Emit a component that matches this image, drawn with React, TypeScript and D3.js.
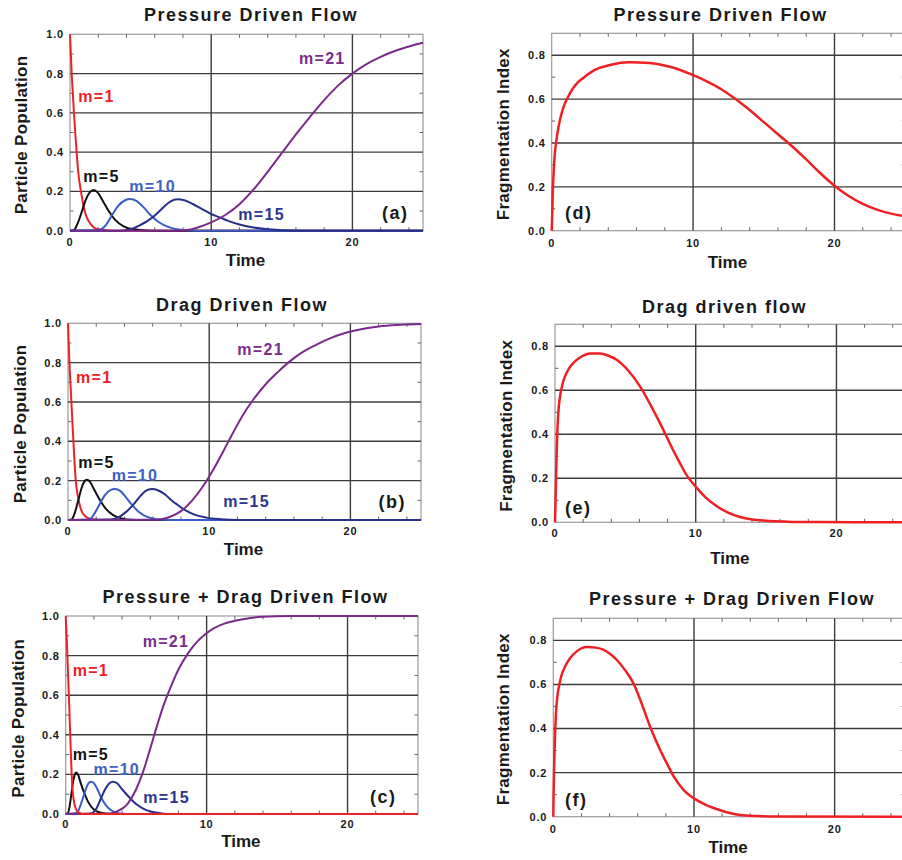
import React from 'react';
import * as d3 from 'd3';

type Pt = [number, number];

// ---------- tick labels / categories ----------
const timeTicks = [0, 10, 20];
const popTicks = [0, 0.2, 0.4, 0.6, 0.8, 1.0];
const fragTicks = [0, 0.2, 0.4, 0.6, 0.8];
const seriesNames = ['m=1', 'm=5', 'm=10', 'm=15', 'm=21'];
const popTitles = ['Pressure Driven Flow', 'Drag Driven Flow', 'Pressure + Drag Driven Flow'];
const fragTitles = ['Pressure Driven Flow', 'Drag driven flow', 'Pressure + Drag Driven Flow'];
const panelTags = ['(a)', '(b)', '(c)', '(d)', '(e)', '(f)'];

// ---------- (a) Pressure driven: particle population ----------
const aM1: Pt[] = [[0,1],[0.06,0.9],[0.12,0.8],[0.2,0.7],[0.28,0.6],[0.37,0.5],[0.47,0.4],[0.58,0.3],[0.8,0.19],[1.0,0.11],[1.2,0.065],[1.45,0.035],[1.8,0.012],[2.4,0.003],[3,0],[25,0]];
const aM5: Pt[] = [[0,0],[0.26,0.002],[0.5,0.03],[0.85,0.1],[1.1,0.155],[1.4,0.195],[1.68,0.207],[1.95,0.195],[2.3,0.155],[2.74,0.1],[3.2,0.055],[3.8,0.022],[4.5,0.007],[5.8,0],[25,0]];
const aM10: Pt[] = [[0,0],[2.0,0.003],[2.5,0.025],[2.98,0.08],[3.4,0.125],[3.9,0.155],[4.28,0.161],[4.7,0.152],[5.2,0.12],[5.7,0.08],[6.3,0.043],[7.0,0.018],[7.8,0.005],[8.8,0],[25,0]];
const aM15: Pt[] = [[0,0],[3.5,0],[4.3,0.007],[5.0,0.03],[5.5,0.05],[6.05,0.08],[6.6,0.118],[7.1,0.148],[7.6,0.16],[8.1,0.155],[8.7,0.136],[9.3,0.112],[10,0.085],[10.6,0.068],[11.2,0.05],[12,0.032],[13,0.016],[14,0.007],[15,0.002],[16.5,0],[25,0]];
const aM21: Pt[] = [[0,0],[7.5,0],[8.3,0.003],[9,0.015],[10,0.042],[11,0.08],[12,0.135],[13,0.21],[14,0.3],[15,0.395],[16,0.49],[17,0.58],[18,0.665],[19,0.74],[20,0.8],[21,0.848],[22,0.885],[23,0.915],[24,0.938],[25,0.957]];

// ---------- (b) Drag driven: particle population ----------
const bM1: Pt[] = [[0,1],[0.05,0.9],[0.1,0.8],[0.2,0.66],[0.33,0.47],[0.45,0.31],[0.55,0.2],[0.7,0.12],[0.85,0.07],[1.0,0.04],[1.3,0.015],[1.7,0.004],[2.3,0],[25,0]];
const bM5: Pt[] = [[0,0],[0.26,0.003],[0.45,0.03],[0.73,0.1],[0.95,0.16],[1.15,0.195],[1.33,0.205],[1.55,0.195],[1.85,0.155],[2.27,0.1],[2.7,0.055],[3.2,0.025],[3.8,0.008],[4.5,0.001],[5.2,0],[25,0]];
const bM10: Pt[] = [[0,0],[1.5,0.003],[1.85,0.03],[2.22,0.078],[2.6,0.125],[3.0,0.152],[3.33,0.157],[3.7,0.148],[4.1,0.115],[4.52,0.078],[5.0,0.042],[5.6,0.016],[6.3,0.004],[7.2,0],[25,0]];
const bM15: Pt[] = [[0,0],[3.0,0.002],[3.6,0.015],[4.1,0.04],[4.63,0.078],[5.1,0.12],[5.5,0.148],[5.93,0.157],[6.4,0.15],[6.9,0.128],[7.3,0.102],[7.8,0.075],[8.3,0.05],[9.0,0.026],[9.8,0.012],[10.8,0.004],[12,0],[25,0]];
const bM21: Pt[] = [[0,0],[6.3,0.001],[7.2,0.015],[8.0,0.045],[8.8,0.1],[9.5,0.165],[10.2,0.245],[11,0.35],[11.7,0.445],[12.4,0.535],[13.1,0.61],[14,0.69],[14.8,0.748],[15.6,0.8],[16.5,0.848],[17.5,0.888],[18.5,0.922],[19.5,0.948],[20.5,0.966],[22,0.984],[23.5,0.992],[25,0.996]];

// ---------- (c) Pressure + drag driven: particle population ----------
const cM1: Pt[] = [[0,1],[0.08,0.87],[0.16,0.72],[0.24,0.57],[0.31,0.42],[0.38,0.28],[0.45,0.16],[0.55,0.08],[0.7,0.03],[0.9,0.008],[1.2,0],[25,0]];
const cM5: Pt[] = [[0,0],[0.15,0.003],[0.28,0.04],[0.4,0.1],[0.52,0.16],[0.63,0.195],[0.75,0.209],[0.88,0.198],[1.05,0.16],[1.35,0.1],[1.6,0.06],[1.9,0.03],[2.3,0.01],[2.8,0.002],[3.3,0],[25,0]];
const cM10: Pt[] = [[0,0],[0.8,0.005],[1.0,0.035],[1.23,0.082],[1.45,0.13],[1.65,0.158],[1.82,0.163],[2.0,0.156],[2.25,0.125],[2.52,0.082],[2.85,0.045],[3.2,0.02],[3.6,0.007],[4.1,0.001],[4.6,0],[25,0]];
const cM15: Pt[] = [[0,0],[1.8,0.003],[2.2,0.03],[2.52,0.082],[2.8,0.125],[3.1,0.155],[3.35,0.163],[3.65,0.155],[4.0,0.125],[4.54,0.082],[5.0,0.05],[5.5,0.027],[6.1,0.011],[6.8,0.003],[7.5,0],[25,0]];
const cM21: Pt[] = [[0,0],[3.0,0.001],[3.6,0.012],[4.42,0.054],[5.0,0.125],[5.5,0.215],[6.0,0.33],[6.5,0.45],[7.0,0.56],[7.5,0.65],[8.0,0.73],[8.67,0.81],[9.3,0.868],[9.86,0.905],[10.5,0.937],[11.2,0.96],[12,0.976],[13,0.989],[14,0.996],[16,1],[25,1]];

// ---------- (d)(e)(f) fragmentation index ----------
const dFrag: Pt[] = [[0,0],[0.04,0.08],[0.08,0.18],[0.15,0.28],[0.22,0.35],[0.35,0.42],[0.5,0.48],[0.7,0.535],[0.9,0.575],[1.17,0.612],[1.5,0.648],[1.88,0.678],[2.3,0.7],[3.06,0.733],[4.2,0.757],[5.5,0.768],[6.9,0.765],[8.5,0.745],[10,0.709],[11,0.68],[12,0.645],[13,0.6],[14,0.55],[15,0.495],[16,0.44],[17,0.385],[18,0.325],[19,0.262],[20,0.205],[21,0.158],[22,0.122],[23,0.096],[24,0.078],[25,0.065]];
const eFrag: Pt[] = [[0,0],[0.04,0.1],[0.07,0.19],[0.12,0.32],[0.17,0.42],[0.25,0.51],[0.36,0.572],[0.5,0.62],[0.71,0.663],[1.0,0.7],[1.3,0.724],[1.8,0.75],[2.49,0.767],[3.2,0.767],[3.8,0.757],[4.38,0.739],[5.2,0.69],[6.04,0.618],[6.9,0.52],[7.7,0.42],[8.3,0.34],[8.88,0.269],[9.4,0.21],[10,0.162],[10.7,0.113],[11.5,0.073],[12.3,0.044],[13.15,0.024],[14,0.013],[15,0.007],[16.5,0.003],[18.6,0.001],[25,0]];
const fFrag: Pt[] = [[0,0],[0.02,0.1],[0.05,0.197],[0.1,0.32],[0.19,0.47],[0.3,0.55],[0.43,0.6],[0.6,0.645],[0.83,0.68],[1.2,0.72],[1.66,0.75],[2.37,0.77],[3.0,0.767],[3.55,0.758],[4.0,0.74],[4.5,0.712],[5.1,0.665],[5.69,0.606],[6.3,0.51],[6.87,0.41],[7.4,0.33],[8.06,0.243],[8.6,0.178],[9.24,0.123],[10,0.083],[10.8,0.055],[11.6,0.035],[12.4,0.019],[13.27,0.008],[14.5,0.003],[16,0.001],[25,0]];

// ---------- styles / layout ----------
const FONT = "'Liberation Sans', Arial, Helvetica, sans-serif";
const TEXT = '#1a1a1a';
const seriesColors = ['#ee2024', '#111111', '#3a5cc8', '#262f8c', '#7a2a8a'];
const labelColors = ['#ee2024', '#111111', '#4060c4', '#2a3590', '#7a2d8b'];

interface Panel {
  kind: 'pop' | 'frag';
  title: string;
  tag: string;
  left: number; right: number; bottom: number; top: number;
  titleX: number; titleY: number;
  timeY: number; tickY: number;
  ylabX: number; ylabY: number;
  tagX: number; tagY: number;
  series: Pt[][];
  order: number[];
  labels?: [number, number][];
}

const panels: Panel[] = [
  { kind: 'pop', title: popTitles[0], tag: panelTags[0], left: 70, right: 423, bottom: 230.7, top: 34.3,
    titleX: 251, titleY: 21, timeY: 265.7, tickY: 246.3, ylabX: 27, ylabY: 135, tagX: 382, tagY: 219,
    series: [aM1, aM5, aM10, aM15, aM21], order: [0, 1, 2, 3, 4],
    labels: [[78.3, 101.7], [83.3, 181.7], [129.3, 191.7], [238.3, 220], [299, 64]] },
  { kind: 'pop', title: popTitles[1], tag: panelTags[1], left: 68, right: 421, bottom: 520, top: 323.3,
    titleX: 242, titleY: 310.7, timeY: 555, tickY: 535, ylabX: 25.5, ylabY: 424, tagX: 378.5, tagY: 508,
    series: [bM1, bM5, bM10, bM15, bM21], order: [0, 1, 2, 3, 4],
    labels: [[76, 382.7], [78.3, 467.5], [111.7, 481], [223.3, 506.7], [237.3, 355]] },
  { kind: 'pop', title: popTitles[2], tag: panelTags[2], left: 65.7, right: 418, bottom: 814, top: 616,
    titleX: 245.5, titleY: 603.3, timeY: 846.7, tickY: 828, ylabX: 24, ylabY: 718.3, tagX: 370, tagY: 803.3,
    series: [cM1, cM5, cM10, cM15, cM21], order: [1, 2, 3, 4, 0],
    labels: [[72.7, 676], [72.7, 760], [93.5, 774.5], [143.3, 803.3], [142.7, 647.3]] },
  { kind: 'frag', title: fragTitles[0], tag: panelTags[3], left: 551.7, right: 905.2, bottom: 230.7, top: 33.3,
    titleX: 720.5, titleY: 20.5, timeY: 268, tickY: 246.7, ylabX: 509, ylabY: 134.2, tagX: 565, tagY: 219,
    series: [dFrag], order: [0] },
  { kind: 'frag', title: fragTitles[1], tag: panelTags[4], left: 555, right: 906.8, bottom: 522.3, top: 324.3,
    titleX: 724.5, titleY: 312.7, timeY: 564, tickY: 537.3, ylabX: 512, ylabY: 425.8, tagX: 565, tagY: 513.5,
    series: [eFrag], order: [0] },
  { kind: 'frag', title: fragTitles[2], tag: panelTags[5], left: 553.3, right: 905, bottom: 816.7, top: 618.3,
    titleX: 732, titleY: 605, timeY: 852.7, tickY: 833.3, ylabX: 509, ylabY: 719.2, tagX: 565, tagY: 806,
    series: [fFrag], order: [0] },
];

const minorX = d3.range(2, 25, 2).filter((v) => v % 10 !== 0);

function PanelView({ p, idx }: { p: Panel; idx: number }) {
  const yMax = p.kind === 'pop' ? 1.0 : 0.9;
  const x = d3.scaleLinear().domain([0, 25]).range([p.left, p.right]);
  const y = d3.scaleLinear().domain([0, yMax]).range([p.bottom, p.top]);
  const ticksY = p.kind === 'pop' ? popTicks : fragTicks;
  const minorY = d3.range(0.1, yMax - 0.001, 0.2);
  const line = d3
    .line<Pt>()
    .x((d) => x(d[0]))
    .y((d) => y(d[1]))
    .curve(d3.curveMonotoneX);
  const clipId = `clip-${idx}`;
  const w = p.right - p.left;
  const h = p.bottom - p.top;
  const tl = 3.5;
  return (
    <g>
      <defs>
        <clipPath id={clipId}>
          <rect x={p.left - 2} y={p.top - 2} width={w + 4} height={h + 4} />
        </clipPath>
      </defs>
      {/* frame */}
      <rect x={p.left} y={p.top} width={w} height={h} fill="#fff" stroke="#9a9a9a" strokeWidth={1.2} />
      {/* grid */}
      {ticksY.filter((v) => v > 0 && v < yMax - 0.001).map((v) => (
        <line key={'gy' + v} x1={p.left} x2={p.right} y1={y(v)} y2={y(v)} stroke="#3c3c3c" strokeWidth={1.4} />
      ))}
      {timeTicks.filter((v) => v > 0).map((v) => (
        <line key={'gx' + v} x1={x(v)} x2={x(v)} y1={p.top} y2={p.bottom} stroke="#3c3c3c" strokeWidth={1.4} />
      ))}
      {/* minor ticks */}
      {minorX.map((v) => (
        <g key={'mx' + v}>
          <line x1={x(v)} x2={x(v)} y1={p.top} y2={p.top + tl} stroke="#666" strokeWidth={1} />
          <line x1={x(v)} x2={x(v)} y1={p.bottom} y2={p.bottom - tl} stroke="#666" strokeWidth={1} />
        </g>
      ))}
      {minorY.map((v) => (
        <g key={'my' + v}>
          <line x1={p.left} x2={p.left + tl} y1={y(v)} y2={y(v)} stroke="#666" strokeWidth={1} />
          <line x1={p.right} x2={p.right - tl} y1={y(v)} y2={y(v)} stroke="#666" strokeWidth={1} />
        </g>
      ))}
      {/* curves */}
      <g clipPath={`url(#${clipId})`}>
        {p.order.map((si) => (
          <path
            key={'s' + si}
            d={line(p.series[si]) || ''}
            fill="none"
            stroke={p.kind === 'pop' ? seriesColors[si] : seriesColors[0]}
            strokeWidth={p.kind === 'pop' ? 2 : 2.5}
            strokeLinejoin="round"
          />
        ))}
      </g>
      {/* tick labels */}
      {ticksY.map((v) => (
        <text key={'ty' + v} x={p.left - 6} y={y(v)} dy="0.36em" textAnchor="end" fontFamily={FONT}
          fontWeight="bold" fontSize={11} letterSpacing={0.8} fill={TEXT}>
          {v.toFixed(1)}
        </text>
      ))}
      {timeTicks.map((v) => (
        <text key={'tx' + v} x={x(v)} y={p.tickY} textAnchor="middle" fontFamily={FONT}
          fontWeight="bold" fontSize={11} letterSpacing={0.8} fill={TEXT}>
          {v}
        </text>
      ))}
      {/* axis titles */}
      <text x={(p.left + p.right) / 2 - 1} y={p.timeY} textAnchor="middle"
        fontFamily={FONT} fontWeight="bold" fontSize={17} fill={TEXT}>
        Time
      </text>
      <text transform={`translate(${p.ylabX},${p.ylabY}) rotate(-90)`} textAnchor="middle" fontFamily={FONT}
        fontWeight="bold" fontSize={17} letterSpacing={0.25} fill={TEXT}>
        {p.kind === 'pop' ? 'Particle Population' : 'Fragmentation Index'}
      </text>
      {/* chart title */}
      <text x={p.titleX} y={p.titleY} textAnchor="middle" fontFamily={FONT} fontWeight="bold" fontSize={18}
        letterSpacing={1.5} fill={TEXT}>
        {p.title}
      </text>
      {/* series labels */}
      {p.labels &&
        p.labels.map((pos, i) => (
          <text key={'lab' + i} x={pos[0]} y={pos[1]} fontFamily={FONT} fontWeight="bold" fontSize={16}
            letterSpacing={1.3} fill={labelColors[i]}>
            {seriesNames[i]}
          </text>
        ))}
      {/* panel tag */}
      <text x={p.tagX} y={p.tagY} fontFamily={FONT} fontWeight="bold" fontSize={18} letterSpacing={1.5} fill={TEXT}>
        {p.tag}
      </text>
    </g>
  );
}

export default function App() {
  return (
    <svg
      width={902}
      height={860}
      viewBox="0 0 902 860"
      style={{ position: 'absolute', left: 0, top: 0, background: '#fff' }}
    >
      <rect x={0} y={0} width={902} height={860} fill="#fff" />
      {panels.map((p, i) => (
        <PanelView key={i} p={p} idx={i} />
      ))}
    </svg>
  );
}
